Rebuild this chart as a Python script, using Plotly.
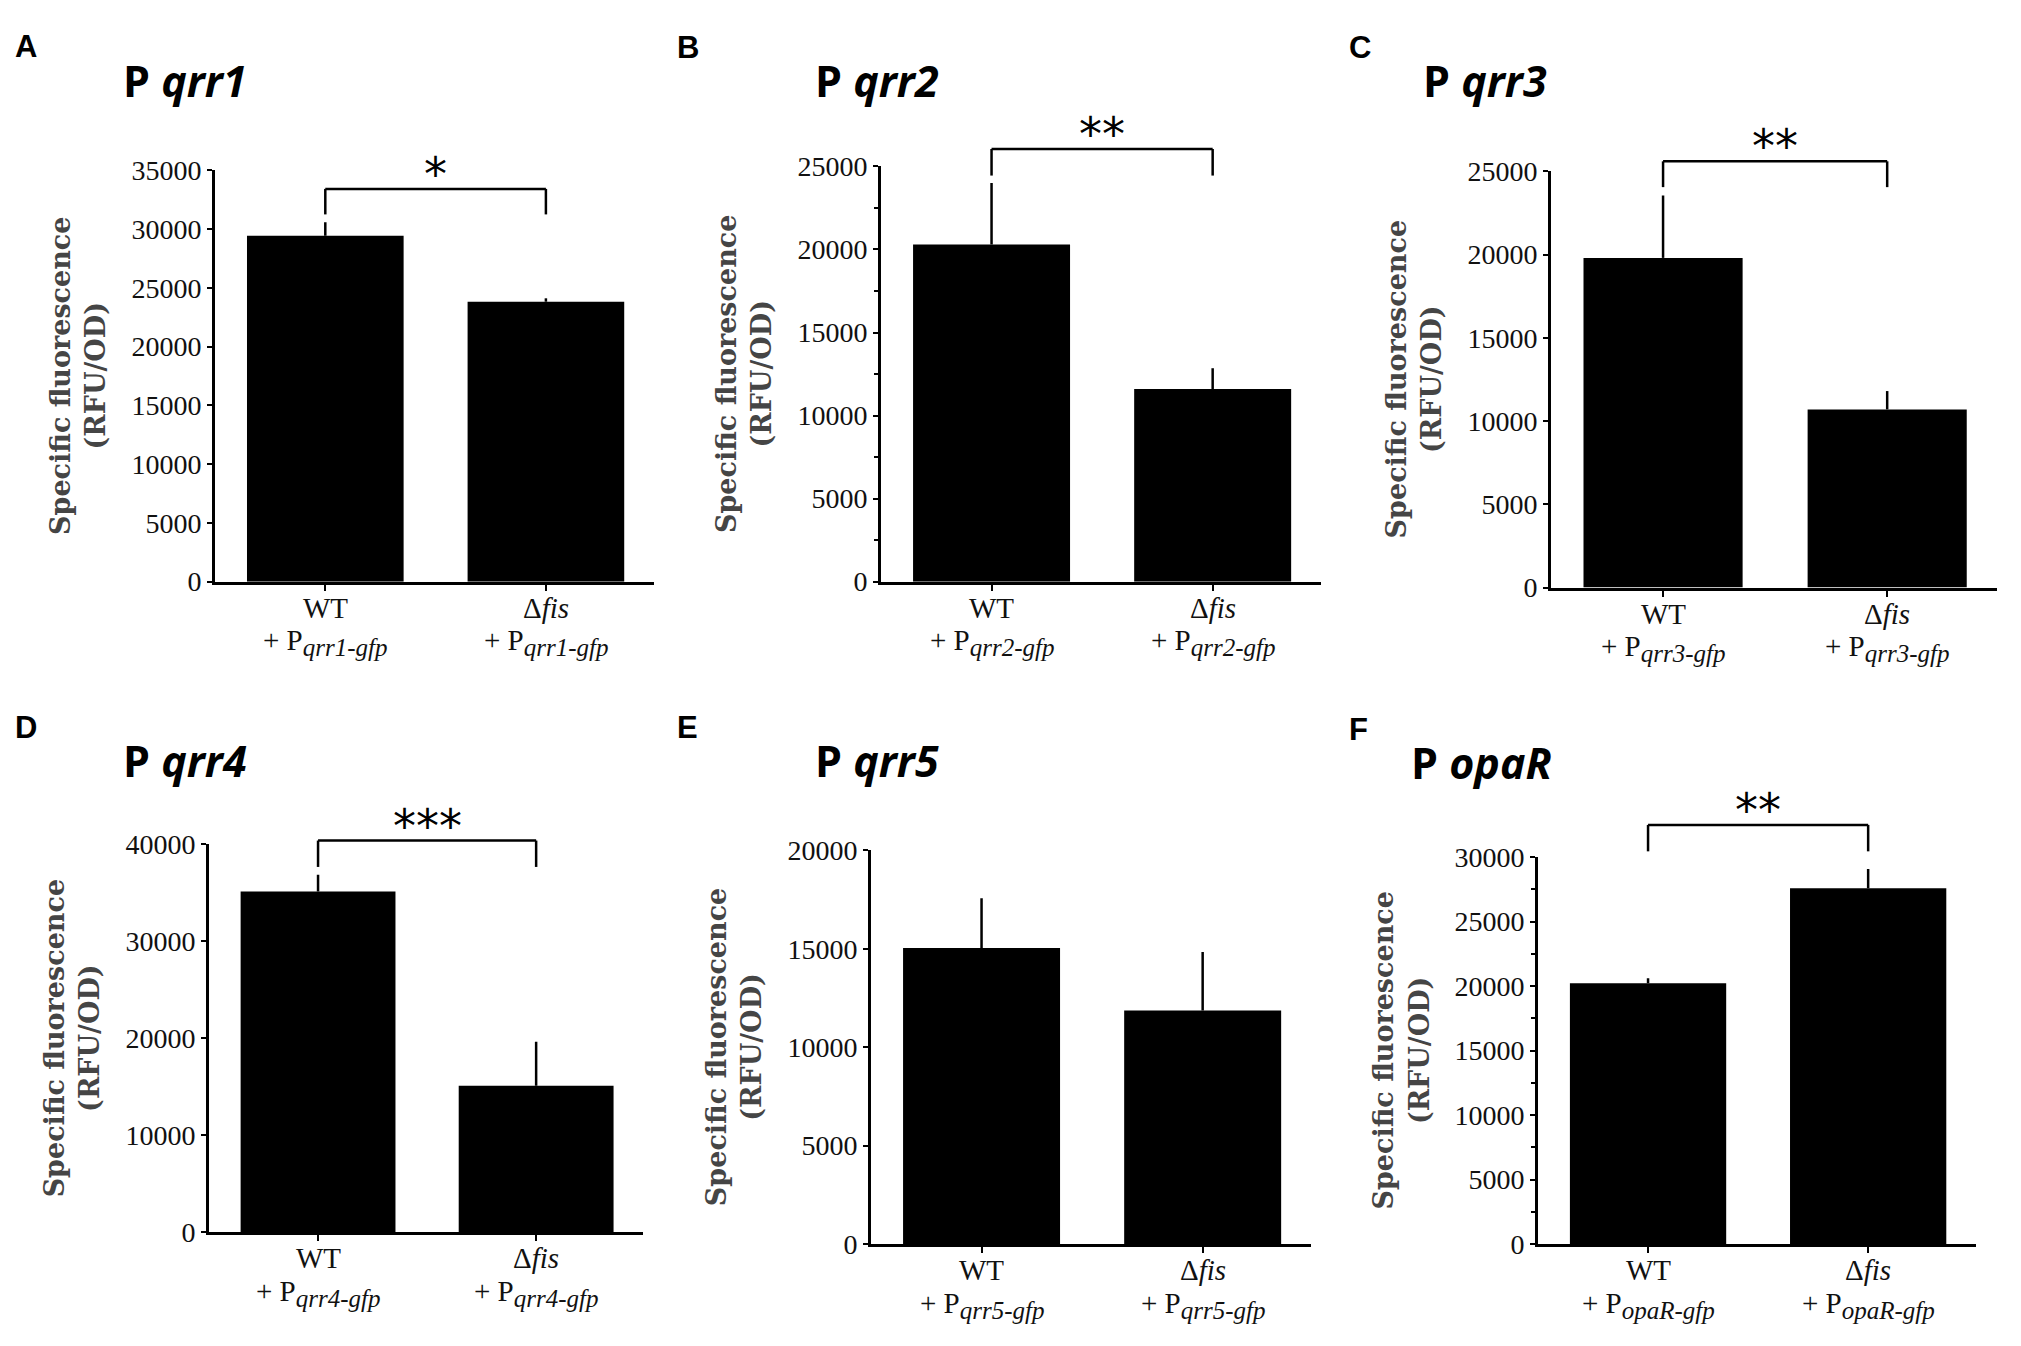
import plotly.graph_objects as go

# values (specific fluorescence, RFU/OD)
panel_letters = ["A", "B", "C", "D", "E", "F"]
promoters = ["qrr1", "qrr2", "qrr3", "qrr4", "qrr5", "opaR"]
strains = ["WT", "Δfis"]
strain_labels = ["WT", "Δ<i>fis</i>"]
wt_mean = [29430, 20300, 19800, 35160, 15040, 20230]
wt_err = [1160, 3700, 3750, 1720, 2530, 380]
fis_mean = [23820, 11600, 10700, 15110, 11860, 27580]
fis_err = [290, 1250, 1100, 4540, 2980, 1510]
y_max = [35000, 25000, 25000, 40000, 20000, 30000]
y_dtick = [5000, 5000, 5000, 10000, 5000, 5000]
significance = ["*", "**", "**", "***", "", "**"]
bracket_top = [33420, 26050, 25600, 40400, None, 32500]
bracket_foot = [31250, 24450, 24050, 37680, None, 30450]
minor_ticks = [False, True, False, False, False, True]

W, H = 2021, 1346

# panel geometry in pixels: axis left, axis right, y=0 line, top tick
panel_px = [(215, 654, 580, 159), (881, 1321, 580, 155), (1551, 1997, 586, 160),
            (209, 643, 1246, 849), (871, 1311, 1258, 855), (1538, 1976, 1258, 862)]
title_px = [(121, 67), (813, 67), (1421, 67), (121, 763), (813, 763), (1409, 765)]
letter_px = [(13, 32), (675, 33), (1347, 33), (13, 729), (675, 729), (1347, 731)]

serif = "Liberation Serif, Times New Roman, serif"

fig = go.Figure()
layout = {}
annotations = []
shapes = []

for i in range(6):
    n = i + 1
    xa = "x" if n == 1 else f"x{n}"
    ya = "y" if n == 1 else f"y{n}"
    xl, xr, yb, yt = panel_px[i]

    fig.add_trace(go.Bar(
        x=strains, y=[wt_mean[i], fis_mean[i]],
        xaxis=xa, yaxis=ya,
        marker=dict(color="black", line=dict(width=0)),
        width=0.71,
        error_y=dict(type="data", symmetric=False,
                     array=[wt_err[i], fis_err[i]], arrayminus=[0, 0],
                     color="black", thickness=2.5, width=0),
        showlegend=False,
    ))

    layout["xaxis" if n == 1 else f"xaxis{n}"] = dict(
        domain=[xl / W, xr / W], anchor=ya,
        type="category", range=[-0.5, 1.49],
        showline=True, linecolor="black", linewidth=3,
        ticks="outside", ticklen=6, tickwidth=2, tickcolor="black",
        showticklabels=False,
        showgrid=False, zeroline=False, fixedrange=True,
    )
    yaxis = dict(
        domain=[1 - yb / H, 1 - yt / H], anchor=xa,
        range=[0, y_max[i]], dtick=y_dtick[i], tick0=0, tickformat="d",
        showline=True, linecolor="black", linewidth=3,
        ticks="outside", ticklen=5, tickwidth=2, tickcolor="black",
        tickfont=dict(family=serif, size=28, color="#111"),
        ticklabelstandoff=0,
        showgrid=False, zeroline=False,
    )
    if minor_ticks[i]:
        yaxis["minor"] = dict(dtick=y_dtick[i] / 2, ticks="outside", ticklen=4,
                              tickwidth=2, tickcolor="black", showgrid=False)
    layout["yaxis" if n == 1 else f"yaxis{n}"] = yaxis

    # two-line category labels under each bar
    sub = f'<sub><span style="font-size:25px"><i>{promoters[i]}-gfp</i></span></sub>'
    for k in range(2):
        annotations.append(dict(
            text=strain_labels[k], xref=xa, yref=f"{ya} domain", x=strains[k], y=0,
            xanchor="center", yanchor="middle", yshift=-26, showarrow=False,
            font=dict(family=serif, size=29, color="#111"),
        ))
        annotations.append(dict(
            text="+ P" + sub, xref=xa, yref=f"{ya} domain", x=strains[k], y=0,
            xanchor="center", yanchor="middle", yshift=-61, showarrow=False,
            font=dict(family=serif, size=29, color="#111"),
        ))

    # y axis title
    annotations.append(dict(
        text="Specific fluorescence<br>(RFU/OD)",
        xref="paper", yref="paper",
        x=(xl - 137) / W, y=1 - (yb + yt) / 2 / H,
        xanchor="center", yanchor="middle", textangle=-90, showarrow=False,
        font=dict(family="DejaVu Serif, serif", size=27, color="#454545", weight="bold"),
    ))
    # panel title
    tx, ty = title_px[i]
    annotations.append(dict(
        text=f"<b>P <i>{promoters[i]}</i></b>",
        xref="paper", yref="paper", x=tx / W, y=1 - ty / H,
        xanchor="left", yanchor="middle", showarrow=False,
        font=dict(family="Open Sans, sans-serif", size=43, color="black"),
    ))
    # panel letter
    lx, ly = letter_px[i]
    annotations.append(dict(
        text=f"<b>{panel_letters[i]}</b>",
        xref="paper", yref="paper", x=lx / W, y=1 - ly / H,
        xanchor="left", yanchor="middle", showarrow=False,
        font=dict(family="Liberation Sans, Arial, sans-serif", size=31, color="black"),
    ))

    # significance bracket
    if bracket_top[i] is not None:
        top = bracket_top[i] / y_max[i]
        foot = bracket_foot[i] / y_max[i]
        yd = f"{ya} domain"
        line = dict(color="black", width=2.5)
        shapes.append(dict(type="line", xref=xa, yref=yd, x0=0, x1=0, y0=foot, y1=top, line=line))
        shapes.append(dict(type="line", xref=xa, yref=yd, x0=0, x1=1, y0=top, y1=top, line=line))
        shapes.append(dict(type="line", xref=xa, yref=yd, x0=1, x1=1, y0=top, y1=foot, line=line))
        annotations.append(dict(
            text=significance[i], xref=xa, yref=yd, x=0.5, y=top,
            xanchor="center", yanchor="bottom", yshift=-14, showarrow=False,
            font=dict(family="DejaVu Sans, sans-serif", size=46, color="black"),
        ))

fig.update_layout(
    width=W, height=H,
    margin=dict(l=0, r=0, t=0, b=0),
    paper_bgcolor="white", plot_bgcolor="white",
    annotations=annotations, shapes=shapes,
    **layout,
)

# drop the browser's default body margin so the figure fills the window
fig.write_html("out.html", config={"displayModeBar": False},
               post_script="document.body.style.margin='0';document.body.style.overflow='hidden';")
